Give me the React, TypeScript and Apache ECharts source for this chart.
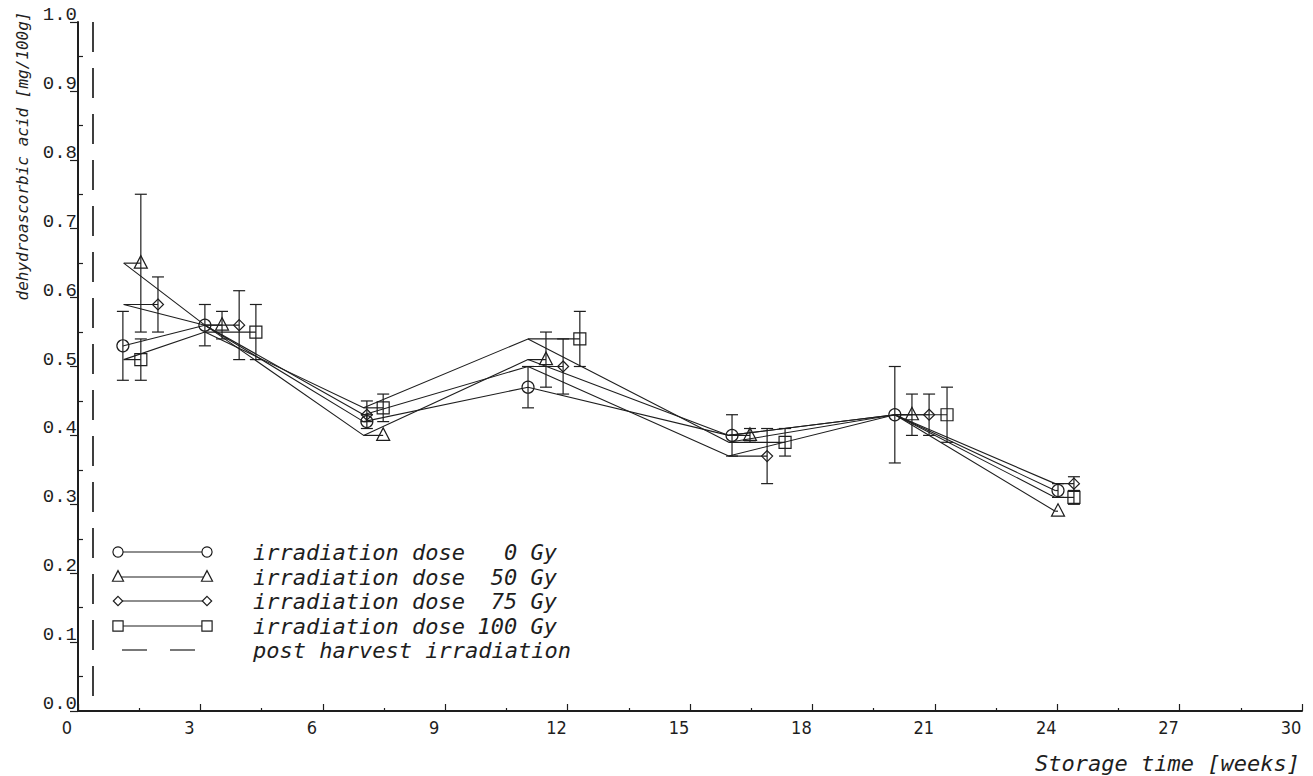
import { useEffect, useRef } from "react";
import * as echarts from "echarts";

// Storage time (weeks) at which the curves of all doses meet
const sampleWeeks = [1.12, 3.11, 7.0, 11.03, 15.95, 20.02, 23.95];

// 0 Gy
const dose0Week = [1.1, 3.11, 7.08, 11.03, 16.03, 20.02, 24.02];
const dose0Mean = [0.53, 0.56, 0.42, 0.47, 0.4, 0.43, 0.32];
const dose0Low = [0.48, 0.53, 0.41, 0.44, 0.37, 0.36, 0.31];
const dose0High = [0.58, 0.59, 0.43, 0.5, 0.43, 0.5, 0.33];

// 50 Gy
const dose50Week = [1.54, 3.53, 7.48, 11.47, 16.47, 20.44, 24.02];
const dose50Mean = [0.65, 0.56, 0.4, 0.51, 0.4, 0.43, 0.29];
const dose50Low = [0.55, 0.54, 0.4, 0.47, 0.39, 0.4, 0.29];
const dose50High = [0.75, 0.58, 0.4, 0.55, 0.41, 0.46, 0.29];

// 75 Gy
const dose75Week = [1.96, 3.95, 7.08, 11.89, 16.89, 20.86, 24.41];
const dose75Mean = [0.59, 0.56, 0.43, 0.5, 0.37, 0.43, 0.33];
const dose75Low = [0.55, 0.51, 0.42, 0.46, 0.33, 0.4, 0.32];
const dose75High = [0.63, 0.61, 0.45, 0.54, 0.41, 0.46, 0.34];

// 100 Gy
const dose100Week = [1.54, 4.36, 7.48, 12.3, 17.33, 21.3, 24.41];
const dose100Mean = [0.51, 0.55, 0.44, 0.54, 0.39, 0.43, 0.31];
const dose100Low = [0.48, 0.51, 0.42, 0.5, 0.37, 0.39, 0.3];
const dose100High = [0.54, 0.59, 0.46, 0.58, 0.41, 0.47, 0.32];

// Time of the post harvest irradiation
const irradiationWeek = [0.35];

const doseLabels = ["0 Gy", "50 Gy", "75 Gy", "100 Gy"];
const markerShapes = ["circle", "triangle", "diamond", "square"];
const legendPrefix = "irradiation dose";
const irradiationLabel = "post harvest irradiation";
const xTitle = "Storage time [weeks]";
const yTitle = "dehydroascorbic acid [mg/100g]";

const INK = "#1e1e1e";
const MONO = '"DejaVu Sans Mono", monospace';

function marker(kind: string, x: number, y: number, style: any, s = 1): any {
  if (kind === "circle") return { type: "circle", shape: { cx: x, cy: y, r: 6 * s }, style };
  if (kind === "triangle")
    return {
      type: "polygon",
      shape: { points: [[x, y - 7.5 * s], [x - 6.5 * s, y + 5 * s], [x + 6.5 * s, y + 5 * s]] },
      style,
    };
  if (kind === "diamond")
    return {
      type: "polygon",
      shape: { points: [[x, y - 5.5 * s], [x + 5.5 * s, y], [x, y + 5.5 * s], [x - 5.5 * s, y]] },
      style,
    };
  return { type: "rect", shape: { x: x - 6 * s, y: y - 6 * s, width: 12 * s, height: 12 * s }, style };
}

function renderPoint(kind: string) {
  return (_params: any, api: any) => {
    const mx = api.value(0);
    const v = api.value(1);
    const lo = api.value(2);
    const hi = api.value(3);
    const t = api.value(4);
    const p = api.coord([mx, v]);
    const p0 = api.coord([t, v]);
    const pLo = api.coord([mx, lo]);
    const pHi = api.coord([mx, hi]);
    const style = { stroke: INK, lineWidth: 1.2, fill: "none" };
    const children: any[] = [];
    if (Math.abs(p[0] - p0[0]) > 0.5) {
      children.push({ type: "line", shape: { x1: p0[0], y1: p0[1], x2: p[0], y2: p[1] }, style });
    }
    if (hi > lo) {
      children.push({ type: "line", shape: { x1: p[0], y1: pHi[1], x2: p[0], y2: pLo[1] }, style });
      children.push({ type: "line", shape: { x1: p[0] - 6, y1: pHi[1], x2: p[0] + 6, y2: pHi[1] }, style });
      children.push({ type: "line", shape: { x1: p[0] - 6, y1: pLo[1], x2: p[0] + 6, y2: pLo[1] }, style });
    }
    children.push(marker(kind, p[0], p[1], style));
    return { type: "group", children };
  };
}

export default function App() {
  const ref = useRef<HTMLDivElement>(null);

  useEffect(() => {
    if (!ref.current) return;
    const chart = echarts.init(ref.current, null, { renderer: "svg" });

    const groups = [
      { week: dose0Week, mean: dose0Mean, low: dose0Low, high: dose0High },
      { week: dose50Week, mean: dose50Mean, low: dose50Low, high: dose50High },
      { week: dose75Week, mean: dose75Mean, low: dose75Low, high: dose75High },
      { week: dose100Week, mean: dose100Mean, low: dose100Low, high: dose100High },
    ];

    const series: any[] = [];
    groups.forEach((g, i) => {
      const line: any = {
        type: "line",
        name: doseLabels[i],
        data: sampleWeeks.map((w, k) => [w, g.mean[k]]),
        showSymbol: false,
        symbol: "none",
        lineStyle: { color: INK, width: 1.1 },
        silent: true,
        z: 2,
      };
      if (i === 0) {
        line.markLine = {
          silent: true,
          symbol: "none",
          label: { show: false },
          lineStyle: { color: INK, width: 1.7, type: [30, 16] },
          data: [[{ coord: [irradiationWeek[0], 1] }, { coord: [irradiationWeek[0], 0] }]],
        };
      }
      series.push(line);
      series.push({
        type: "custom",
        name: doseLabels[i] + " points",
        renderItem: renderPoint(markerShapes[i]),
        data: g.week.map((w, k) => [w, g.mean[k], g.low[k], g.high[k], sampleWeeks[k]]),
        encode: { x: 0, y: [1, 2, 3] },
        silent: true,
        z: 3,
      });
    });

    // Legend rows drawn by hand: marker, line, marker, text
    const legendRows = [552, 577, 601, 626];
    const lineStyle = { stroke: INK, lineWidth: 1.2, fill: "none" };
    const legend: any[] = [];
    legendRows.forEach((y, i) => {
      legend.push({ type: "line", shape: { x1: 118, y1: y, x2: 207, y2: y }, style: lineStyle });
      legend.push(marker(markerShapes[i], 118, y, { ...lineStyle, fill: "#fff" }, 0.85));
      legend.push(marker(markerShapes[i], 207, y, { ...lineStyle, fill: "#fff" }, 0.85));
      legend.push({
        type: "text",
        x: 253,
        y,
        style: { text: legendPrefix, fill: INK, font: `italic 22px ${MONO}`, verticalAlign: "middle" },
      });
      legend.push({
        type: "text",
        x: 557,
        y,
        style: { text: doseLabels[i], fill: INK, font: `italic 22px ${MONO}`, align: "right", verticalAlign: "middle" },
      });
    });
    const dashY = 650;
    legend.push({ type: "line", shape: { x1: 122, y1: dashY, x2: 147, y2: dashY }, style: lineStyle });
    legend.push({ type: "line", shape: { x1: 170, y1: dashY, x2: 195, y2: dashY }, style: lineStyle });
    legend.push({
      type: "text",
      x: 253,
      y: dashY,
      style: { text: irradiationLabel, fill: INK, font: `italic 22px ${MONO}`, verticalAlign: "middle" },
    });

    chart.setOption({
      animation: false,
      backgroundColor: "#fff",
      grid: { left: 78, right: 11, top: 22, bottom: 65, containLabel: false },
      xAxis: {
        type: "value",
        min: 0,
        max: 30,
        interval: 3,
        axisLine: { show: true, onZero: false, lineStyle: { color: INK, width: 2 } },
        axisTick: { show: true, inside: true, length: 7, lineStyle: { color: INK, width: 1.2 } },
        minorTick: { show: true, splitNumber: 2, length: 3, lineStyle: { color: INK, width: 1.2 } },
        splitLine: { show: false },
        axisLabel: {
          color: INK,
          fontSize: 18,
          fontFamily: '"Liberation Sans Narrow", "DejaVu Sans Condensed", sans-serif',
          margin: 7,
          padding: [0, 22, 0, 0],
        },
      },
      yAxis: [
        {
          type: "value",
          min: 0,
          max: 1,
          interval: 0.1,
          axisLine: { show: true, onZero: false, lineStyle: { color: INK, width: 2 } },
          axisTick: { show: true, inside: false, length: 8, lineStyle: { color: INK, width: 1.2 } },
          splitLine: { show: false },
          axisLabel: {
            color: INK,
            fontSize: 19,
            fontFamily: '"Liberation Mono", "DejaVu Sans Mono", monospace',
            margin: 1,
            verticalAlign: "bottom",
            lineHeight: 14,
            formatter: (v: number) => v.toFixed(1),
          },
        },
        {
          type: "value",
          min: 0,
          max: 1,
          interval: 0.1,
          position: "left",
          axisLine: { show: false },
          axisTick: { show: false, inside: true },
          minorTick: { show: true, splitNumber: 2, length: 5, lineStyle: { color: INK, width: 1.2 } },
          splitLine: { show: false },
          axisLabel: { show: false },
        },
      ],
      series,
      graphic: [
        ...legend,
        {
          type: "text",
          x: 22,
          y: 156,
          rotation: Math.PI / 2,
          style: { text: yTitle, fill: INK, font: `italic 16px ${MONO}`, align: "center", verticalAlign: "middle" },
        },
        {
          type: "text",
          x: 1300,
          y: 763,
          style: { text: xTitle, fill: INK, font: `italic 22px ${MONO}`, align: "right", verticalAlign: "middle" },
        },
      ],
    });

    return () => chart.dispose();
  }, []);

  return (
    <div
      ref={ref}
      style={{ position: "fixed", left: 0, top: 0, width: 1313, height: 776, background: "#fff" }}
    />
  );
}
